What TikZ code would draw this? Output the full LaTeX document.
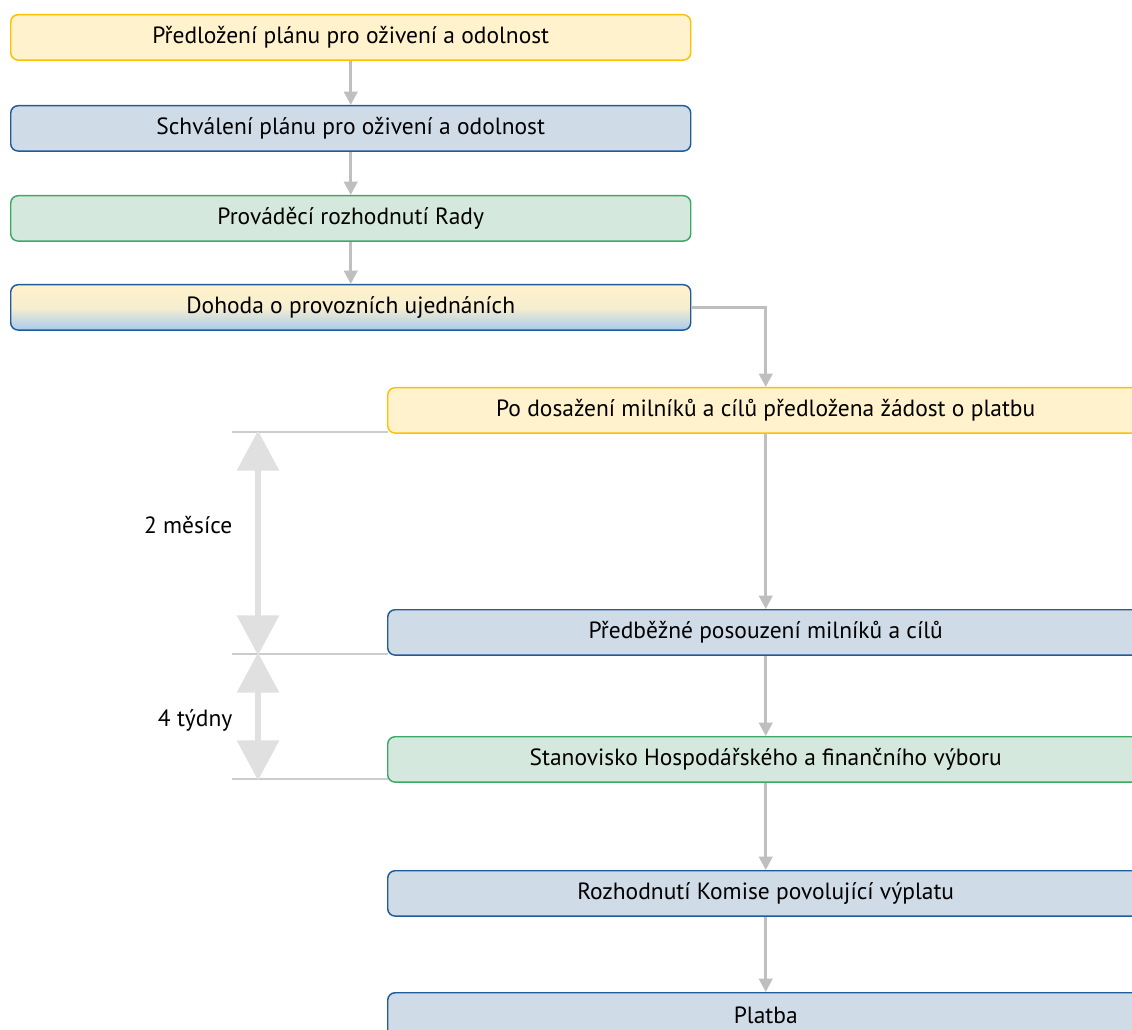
\documentclass[tikz,border=0pt]{standalone}
\usepackage{fontspec}
\setmainfont{PT Sans}
\usetikzlibrary{arrows.meta,positioning}
\definecolor{yfill}{HTML}{FFF2CC}
\definecolor{ydraw}{HTML}{FFC000}
\definecolor{bfill}{HTML}{CFDBE6}
\definecolor{bdraw}{HTML}{1F5C99}
\definecolor{gfill}{HTML}{D5E8DD}
\definecolor{gdraw}{HTML}{3AAA64}
\definecolor{gradb}{HTML}{A9CBEE}
\definecolor{conn}{HTML}{BFBFBF}
\definecolor{span}{HTML}{E0E0E0}
\definecolor{sepline}{HTML}{CCCCCC}
\tikzset{
  box/.style={rounded corners=5.5pt, line width=1.1pt, font=\fontsize{17.6}{20}\selectfont, inner sep=0pt, anchor=north west},
  ybox/.style={box, fill=yfill, draw=ydraw},
  bbox/.style={box, fill=bfill, draw=bdraw},
  gbox/.style={box, fill=gfill, draw=gdraw},
  grbox/.style={box, top color=yfill, bottom color=gradb, middle color=yfill!90!gradb, draw=bdraw},
  leftw/.style={minimum width=510pt, minimum height=34pt},
  rightw/.style={minimum width=567pt, minimum height=34pt},
  flow/.style={draw=conn, line width=2.2pt, -{Triangle[width=10pt,length=10pt]}},
  spanarrow/.style={draw=span, line width=4pt, {Triangle[width=31pt,length=30pt]}-{Triangle[width=31pt,length=30pt]}, shorten <=-1pt, shorten >=-1pt},
  sep/.style={draw=sepline, line width=1pt},
  lbl/.style={font=\fontsize{17.6}{20}\selectfont, anchor=east}
}
\begin{document}
\begin{tikzpicture}[x=0.75pt,y=-0.75pt]
\useasboundingbox (0,0) rectangle (1132,1030);
\clip (0,0) rectangle (1132,1030);
% separator lines
\coordinate (s1a) at (232,432); \coordinate (s1b) at (388,432);
\coordinate (s2a) at (232,654); \coordinate (s2b) at (388,654);
\coordinate (s3a) at (232,779); \coordinate (s3b) at (388,779);
\draw[sep] (s1a) -- (s1b);
\draw[sep] (s2a) -- (s2b);
\draw[sep] (s3a) -- (s3b);
% span arrows
\coordinate (a1t) at (258,432); \coordinate (a1b) at (258,654);
\coordinate (a2t) at (258,654); \coordinate (a2b) at (258,779);
\draw[spanarrow] (a1t) -- (a1b);
\draw[spanarrow] (a2t) -- (a2b);
\node[lbl] (l1) at (237,525) {2 měsíce};
\node[lbl] (l2) at (237,720) {4 týdny};
% left column
\node[ybox, leftw] (n1) at (10,14) {Předložení plánu pro oživení a odolnost};
\node[bbox, leftw] (n2) at (10,105) {Schválení plánu pro oživení a odolnost};
\node[gbox, leftw] (n3) at (10,195) {Prováděcí rozhodnutí Rady};
\node[grbox, leftw] (n4) at (10,284) {Dohoda o provozních ujednáních};
% right column
\node[ybox, rightw] (n5) at (387,387) {Po dosažení milníků a cílů předložena žádost o platbu};
\node[bbox, rightw] (n6) at (387,609) {Předběžné posouzení milníků a cílů};
\node[gbox, rightw] (n7) at (387,736) {Stanovisko Hospodářského a finančního výboru};
\node[bbox, rightw] (n8) at (387,870) {Rozhodnutí Komise povolující výplatu};
\node[bbox, rightw] (n9) at (387,992) {Platba};
% connectors
\draw[flow] (n1.south) -- (n2.north);
\draw[flow] (n2.south) -- (n3.north);
\draw[flow] (n3.south) -- (n4.north);
\draw[flow] (n4.east) -| (n5.north);
\draw[flow] (n5.south) -- (n6.north);
\draw[flow] (n6.south) -- (n7.north);
\draw[flow] (n7.south) -- (n8.north);
\draw[flow] (n8.south) -- (n9.north);
\end{tikzpicture}
\end{document}
